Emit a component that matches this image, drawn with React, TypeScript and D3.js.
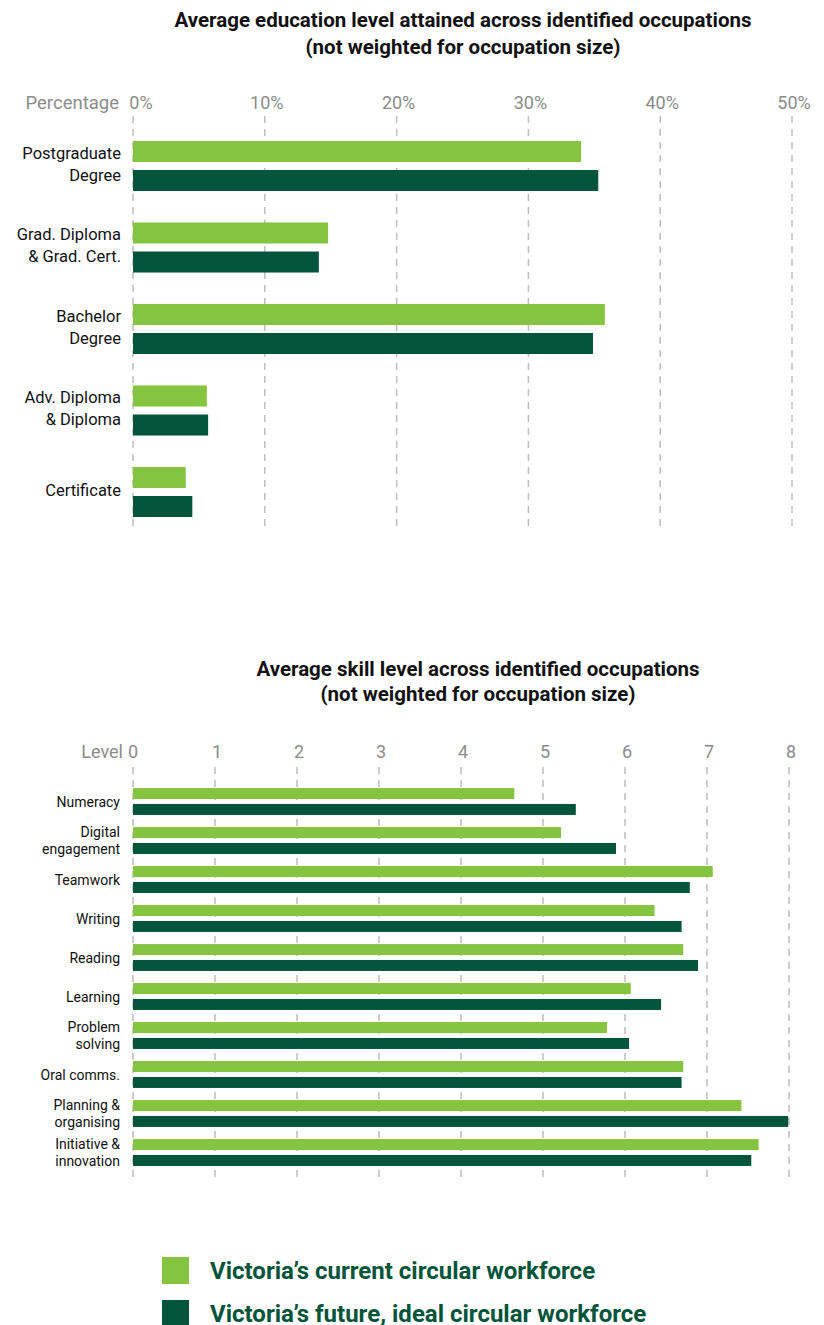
import React from "react";
import * as d3 from "d3";

const eduCategories = [
  ["Postgraduate", "Degree"],
  ["Grad. Diploma", "& Grad. Cert."],
  ["Bachelor", "Degree"],
  ["Adv. Diploma", "& Diploma"],
  ["Certificate"],
];
const eduCurrent = [34.0, 14.8, 35.8, 5.6, 4.0];
const eduFuture = [35.3, 14.1, 34.9, 5.7, 4.5];
const eduTicks = [0, 10, 20, 30, 40, 50];

const skillCategories = [
  ["Numeracy"],
  ["Digital", "engagement"],
  ["Teamwork"],
  ["Writing"],
  ["Reading"],
  ["Learning"],
  ["Problem", "solving"],
  ["Oral comms."],
  ["Planning &", "organising"],
  ["Initiative &", "innovation"],
];
const skillCurrent = [4.65, 5.22, 7.07, 6.36, 6.71, 6.07, 5.78, 6.71, 7.42, 7.63];
const skillFuture = [5.4, 5.89, 6.79, 6.69, 6.89, 6.44, 6.05, 6.69, 7.99, 7.54];
const skillTicks = [0, 1, 2, 3, 4, 5, 6, 7, 8];

const seriesNames = ["Victoria\u2019s current circular workforce", "Victoria\u2019s future, ideal circular workforce"];
const seriesKeys = ["current", "future"];

const LIGHT = "#84C441";
const DARK = "#02543A";
const GRID = "#BDBDBD";
const TICK = "#8C8C8C";
const FONT = "Roboto, 'Noto Sans', sans-serif";

export default function App() {
  // Top chart
  const x1 = d3.scaleLinear().domain([0, 50]).range([133, 792]);
  const eduIdx = eduCategories.map((_, i) => String(i));
  const y1 = d3
    .scaleBand()
    .domain(eduIdx)
    .range([141 - 15.75, 517 + 15.75])
    .paddingInner(0.386)
    .paddingOuter(0.193);
  const y1s = d3.scaleBand().domain(seriesKeys).range([0, y1.bandwidth()]).paddingInner(0.276);

  // Bottom chart
  const x2 = d3.scaleLinear().domain([0, 8]).range([133, 789]);
  const skIdx = skillCategories.map((_, i) => String(i));
  const y2 = d3.scaleBand().domain(skIdx).range([788 - 6, 1166 + 6]).paddingInner(0.31).paddingOuter(0.155);
  const y2s = d3.scaleBand().domain(seriesKeys).range([0, y2.bandwidth()]).paddingInner(0.31);

  return (
    <svg width={824} height={1325} style={{ display: "block", position: "absolute", left: 0, top: 0 }} fontFamily={FONT}>
      <rect width={824} height={1325} fill="#fff" />
      {/* Top title */}
      <text x={463} y={27} textAnchor="middle" fontSize={20.5} fontWeight={700} fill="#111">
        Average education level attained across identified occupations
      </text>
      <text x={463} y={54} textAnchor="middle" fontSize={20.5} fontWeight={700} fill="#111">
        (not weighted for occupation size)
      </text>

      {/* Top axis */}
      <text x={119} y={109} textAnchor="end" fontSize={18.5} fill={TICK}>Percentage</text>
      {eduTicks.map((t) => (
        <g key={"et" + t}>
          <line x1={x1(t)} x2={x1(t)} y1={116} y2={526} stroke={GRID} strokeWidth={1.5} strokeDasharray="7,6" />
          <text x={t === 0 ? x1(t) + 8 : x1(t) + 2} y={109} textAnchor="middle" fontSize={18} fill={TICK}>
            {t}%
          </text>
        </g>
      ))}
      {eduCategories.map((c, i) => {
        const yc = (y1(String(i)) as number) + y1.bandwidth() / 2;
        const yCur = (y1(String(i)) as number) + (y1s("current") as number);
        const yFut = (y1(String(i)) as number) + (y1s("future") as number);
        return (
          <g key={"e" + i}>
            <rect x={x1(0)} y={yCur} width={x1(eduCurrent[i]) - x1(0)} height={y1s.bandwidth()} fill={LIGHT} />
            <rect x={x1(0)} y={yFut} width={x1(eduFuture[i]) - x1(0)} height={y1s.bandwidth()} fill={DARK} />
            {c.map((line, k) => (
              <text
                key={k}
                x={121}
                y={yc + (k - (c.length - 1) / 2) * 22 + 3.5}
                textAnchor="end"
                fontSize={16.5}
                fill="#111"
              >
                {line}
              </text>
            ))}
          </g>
        );
      })}

      {/* Bottom title */}
      <text x={478} y={676} textAnchor="middle" fontSize={20.5} fontWeight={700} fill="#111">
        Average skill level across identified occupations
      </text>
      <text x={478} y={701} textAnchor="middle" fontSize={20.5} fontWeight={700} fill="#111">
        (not weighted for occupation size)
      </text>

      {/* Bottom axis */}
      <text x={123} y={758} textAnchor="end" fontSize={18} fill={TICK}>Level</text>
      {skillTicks.map((t) => (
        <g key={"st" + t}>
          <line x1={x2(t)} x2={x2(t)} y1={767} y2={1177} stroke={GRID} strokeWidth={1.5} strokeDasharray="7,6" />
          <text x={t === 0 ? x2(t) + 0 : x2(t) + 2} y={758} textAnchor="middle" fontSize={18} fill={TICK}>
            {t}
          </text>
        </g>
      ))}
      {skillCategories.map((c, i) => {
        const yc = (y2(String(i)) as number) + y2.bandwidth() / 2;
        const yCur = (y2(String(i)) as number) + (y2s("current") as number);
        const yFut = (y2(String(i)) as number) + (y2s("future") as number);
        return (
          <g key={"s" + i}>
            <rect x={x2(0)} y={yCur} width={x2(skillCurrent[i]) - x2(0)} height={y2s.bandwidth()} fill={LIGHT} />
            <rect x={x2(0)} y={yFut} width={x2(skillFuture[i]) - x2(0)} height={y2s.bandwidth()} fill={DARK} />
            {c.map((line, k) => (
              <text
                key={k}
                x={120}
                y={yc + (k - (c.length - 1) / 2) * 16.5 + 5}
                textAnchor="end"
                fontSize={14}
                fill="#111"
              >
                {line}
              </text>
            ))}
          </g>
        );
      })}

      {/* Legend */}
      {seriesNames.map((name, i) => (
        <g key={"l" + i}>
          <rect x={162} y={1257 + i * 43} width={27} height={27} fill={i === 0 ? LIGHT : DARK} />
          <text x={210} y={1279 + i * 43} fontSize={24} fontWeight={700} fill={DARK}>
            {name}
          </text>
        </g>
      ))}
    </svg>
  );
}
